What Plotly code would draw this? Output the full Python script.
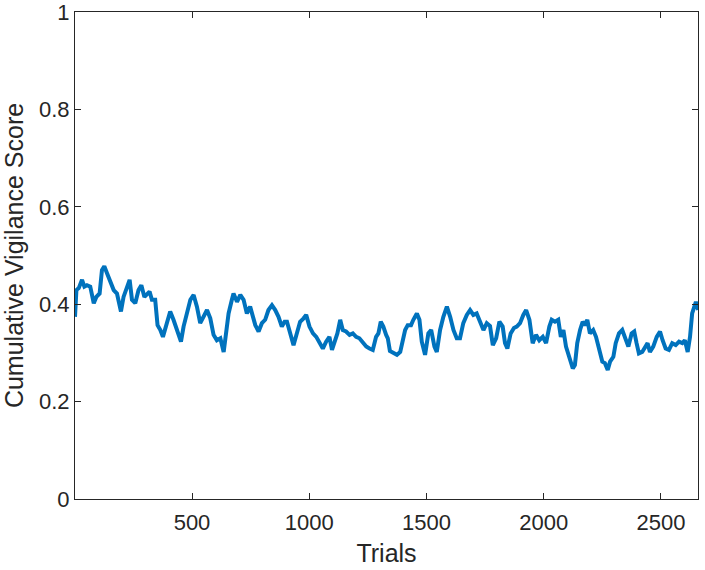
import plotly.graph_objects as go

trials = [1, 7, 17, 31, 41, 52, 66, 81, 92, 106, 116, 126, 138, 152, 166, 180, 197, 208, 223, 234,
          244, 258, 272, 284, 297, 308, 319, 329, 343, 353, 365, 376, 393, 407, 421, 433, 447, 453, 464, 479,
          493, 507, 521, 535, 549, 564, 578, 592, 606, 621, 635, 645, 656, 670, 677, 692, 706, 720, 734, 748,
          758, 770, 784, 798, 812, 826, 841, 855, 869, 883, 895, 905, 919, 933, 947, 961, 976, 987, 1001, 1016,
          1030, 1044, 1058, 1072, 1086, 1097, 1111, 1120, 1132, 1143, 1157, 1172, 1186, 1200, 1214, 1229, 1243, 1257, 1271, 1285,
          1295, 1305, 1316, 1328, 1335, 1344, 1359, 1374, 1388, 1397, 1409, 1420, 1434, 1444, 1459, 1470, 1480, 1494, 1508, 1520,
          1534, 1544, 1558, 1572, 1587, 1601, 1615, 1629, 1643, 1657, 1672, 1686, 1700, 1714, 1729, 1743, 1757, 1771, 1783, 1797,
          1811, 1825, 1835, 1845, 1859, 1873, 1885, 1899, 1913, 1925, 1939, 1953, 1967, 1981, 1996, 2010, 2024, 2034, 2048, 2062,
          2073, 2084, 2095, 2109, 2124, 2133, 2143, 2155, 2166, 2176, 2186, 2197, 2211, 2223, 2237, 2250, 2261, 2273, 2283, 2297,
          2307, 2321, 2335, 2349, 2361, 2375, 2386, 2396, 2406, 2420, 2432, 2443, 2453, 2467, 2482, 2496, 2507, 2520, 2534, 2548,
          2563, 2577, 2591, 2602, 2614, 2624, 2633, 2642, 2649, 2659]

scores = [0.374, 0.429, 0.433, 0.450, 0.436, 0.439, 0.436, 0.402, 0.415, 0.422, 0.470, 0.478, 0.463, 0.443, 0.429, 0.422, 0.385, 0.415, 0.439, 0.450,
          0.409, 0.402, 0.429, 0.439, 0.415, 0.422, 0.426, 0.409, 0.409, 0.357, 0.347, 0.333, 0.361, 0.385, 0.368, 0.351, 0.327, 0.323, 0.354, 0.381,
          0.409, 0.419, 0.395, 0.361, 0.374, 0.388, 0.371, 0.337, 0.326, 0.330, 0.302, 0.340, 0.381, 0.409, 0.422, 0.405, 0.419, 0.409, 0.381, 0.395,
          0.374, 0.357, 0.344, 0.361, 0.368, 0.388, 0.398, 0.388, 0.374, 0.354, 0.364, 0.364, 0.340, 0.316, 0.340, 0.364, 0.371, 0.378, 0.354, 0.340,
          0.333, 0.320, 0.309, 0.323, 0.333, 0.306, 0.326, 0.340, 0.368, 0.347, 0.344, 0.337, 0.340, 0.333, 0.330, 0.320, 0.313, 0.309, 0.306, 0.333,
          0.340, 0.364, 0.354, 0.337, 0.330, 0.304, 0.299, 0.296, 0.302, 0.326, 0.347, 0.357, 0.357, 0.368, 0.381, 0.368, 0.323, 0.296, 0.340, 0.347,
          0.313, 0.302, 0.347, 0.374, 0.395, 0.374, 0.347, 0.330, 0.330, 0.361, 0.378, 0.388, 0.378, 0.381, 0.361, 0.347, 0.361, 0.355, 0.316, 0.330,
          0.364, 0.354, 0.320, 0.309, 0.340, 0.351, 0.354, 0.361, 0.378, 0.388, 0.368, 0.320, 0.337, 0.326, 0.333, 0.320, 0.354, 0.368, 0.364, 0.368,
          0.333, 0.347, 0.313, 0.292, 0.268, 0.275, 0.320, 0.347, 0.364, 0.357, 0.368, 0.340, 0.347, 0.333, 0.306, 0.282, 0.279, 0.265, 0.282, 0.292,
          0.320, 0.340, 0.347, 0.326, 0.313, 0.340, 0.344, 0.320, 0.299, 0.302, 0.313, 0.320, 0.302, 0.313, 0.333, 0.344, 0.326, 0.309, 0.306, 0.320,
          0.316, 0.323, 0.320, 0.326, 0.302, 0.333, 0.381, 0.392, 0.405, 0.388]

x_ticks = [500, 1000, 1500, 2000, 2500]
y_ticks = [0, 0.2, 0.4, 0.6, 0.8, 1]
y_tick_labels = ["0", "0.2", "0.4", "0.6", "0.8", "1"]

axis_color = "#262626"
font_family = "Liberation Sans, Arial, sans-serif"

fig = go.Figure()
fig.add_trace(go.Scatter(x=trials, y=scores, mode="lines",
                         line=dict(color="#0072BD", width=4), showlegend=False))

fig.update_layout(
    width=705, height=570,
    margin=dict(l=75, r=7, t=12, b=71),
    paper_bgcolor="white", plot_bgcolor="white",
    font=dict(family=font_family, color=axis_color, size=22),
)
fig.update_xaxes(
    range=[1, 2658], tickvals=x_ticks, ticks="inside", ticklen=6, tickwidth=1,
    tickcolor=axis_color, showline=True, linecolor=axis_color, linewidth=1, mirror="ticks",
    showgrid=False, zeroline=False, automargin=False, ticklabelstandoff=4,
    ticklabeloverflow="allow",
    tickfont=dict(size=22, color=axis_color),
    title=dict(text="Trials", font=dict(size=25, color=axis_color), standoff=10),
)
fig.update_yaxes(
    range=[0, 1], tickvals=y_ticks, ticktext=y_tick_labels, ticks="inside", ticklen=6, tickwidth=1,
    tickcolor=axis_color, showline=True, linecolor=axis_color, linewidth=1, mirror="ticks",
    showgrid=False, zeroline=False, automargin=False, ticklabeloverflow="allow",
    tickfont=dict(size=22, color=axis_color),
    title=dict(text="Cumulative Vigilance Score", font=dict(size=25, color=axis_color), standoff=8),
)

fig.write_html("out.html", config={"displayModeBar": False},
               post_script="document.body.style.margin='0';")
